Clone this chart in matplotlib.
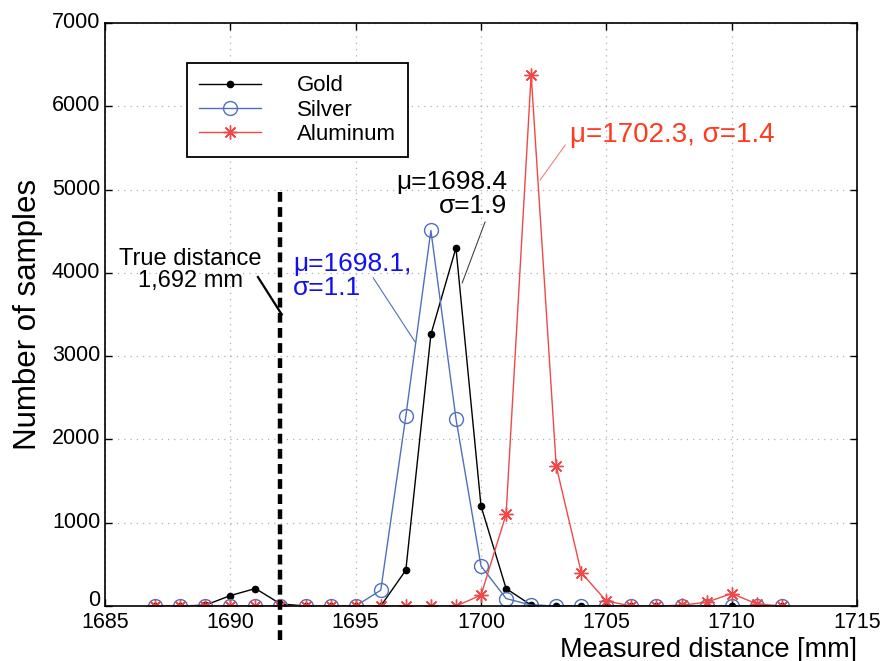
import numpy as np
import matplotlib
matplotlib.use("Agg")
import matplotlib.pyplot as plt
from matplotlib.transforms import ScaledTranslation

plt.rcParams["font.family"] = ["Liberation Sans", "DejaVu Sans"]

# measured distance bins [mm]
distance = np.arange(1687, 1713)
gold = [0, 0, 10, 125, 210, 25, 0, 0, 0, 0, 430, 3260, 4300, 1200, 210, 10,
        0, 0, 0, 0, 0, 0, 0, 0, 0, 0]
silver = [0, 0, 0, 0, 0, 0, 0, 0, 0, 190, 2280, 4510, 2250, 480, 90, 10,
          0, 0, 0, 0, 0, 0, 0, 0, 0, 0]
aluminum = [0, 0, 0, 0, 0, 0, 0, 0, 0, 0, 0, 0, 0, 130, 1100, 6380, 1680, 400,
            60, 0, 0, 10, 45, 150, 25, 0]
series_names = ["Gold", "Silver", "Aluminum"]
true_distance = 1692

C_GOLD = "black"
C_SILVER = "#4f6fbf"
C_ALU = "#f04848"

fig = plt.figure(figsize=(8.87, 6.61), dpi=100)
ax = fig.add_axes([0.1184, 0.0832, 0.8478, 0.882])

ax.plot(distance, gold, color=C_GOLD, lw=1.0, marker="o", ms=4.5,
        label=series_names[0])
ax.plot(distance, silver, color=C_SILVER, lw=1.0, marker="o", ms=10,
        mfc="none", mew=1.0, label=series_names[1])
ax.plot(distance, aluminum, color=C_ALU, lw=1.0, marker=(8, 2, 0), ms=10,
        mew=1.0, label=series_names[2])

# true distance marker
ax.plot([true_distance, true_distance], [-410, 5000], color="black", lw=3.2,
        ls=(0, (2.2, 1.2)), clip_on=False, zorder=5)

# annotations
ax.text(1688.4, 4030, "True distance\n1,692 mm", ha="center", va="center",
        fontsize=17, linespacing=1.0)
ax.plot([1691.1, 1692.05], [3950, 3500], color="black", lw=1.6)

ax.text(1692.5, 3960, "\u03bc=1698.1,\n\u03c3=1.1", ha="left", va="center",
        fontsize=19, color="#1010f0", linespacing=1.0)
ax.plot([1695.7, 1697.37], [3940, 3170], color=C_SILVER, lw=0.8)

ax.text(1701.05, 4950, "\u03bc=1698.4\n\u03c3=1.9", ha="right", va="center",
        fontsize=19, color="black", linespacing=1.0)
ax.plot([1700.16, 1699.25], [4610, 3880], color="#444444", lw=0.8)

ax.text(1703.55, 5650, "\u03bc=1702.3, \u03c3=1.4", ha="left", va="center",
        fontsize=20, color="#ff3a1e")
ax.plot([1703.36, 1702.36], [5535, 5115], color="#f08080", lw=0.8)

ax.set_xlim(1685, 1715)
ax.set_ylim(0, 7000)
ax.set_xticks(np.arange(1685, 1716, 5))
ax.set_yticks(np.arange(0, 7001, 1000))
ax.tick_params(direction="in", top=True, right=True, length=5, width=1,
               labelsize=15.5)
ax.tick_params(axis="x", pad=4)
# nudge y tick labels up; "0" a bit more so it clears "1685"
ylabels = ax.get_yticklabels()
for i, lbl in enumerate(ylabels):
    dy = 8 if i == 0 else 3
    lbl.set_transform(lbl.get_transform() +
                      ScaledTranslation(0, dy / 100, fig.dpi_scale_trans))
ax.grid(True, ls=(0, (1, 4)), color="#b0b0b0", lw=0.9)
for sp in ax.spines.values():
    sp.set_linewidth(1.2)

ax.set_xlabel("Measured distance [mm]", fontsize=19.5, ha="right",
              va="baseline")
ax.xaxis.set_label_coords(1.0, -0.087)
ax.set_ylabel("Number of samples", fontsize=22.5, labelpad=6)

leg = ax.legend(loc="upper left", bbox_to_anchor=(0.109, 0.931), fontsize=16,
                handlelength=2.8, handletextpad=1.6, labelspacing=0.15,
                fancybox=False, edgecolor="black", framealpha=1,
                borderpad=0.55, borderaxespad=0)
leg.get_frame().set_linewidth(1.3)

fig.savefig("out.png", dpi=100)
